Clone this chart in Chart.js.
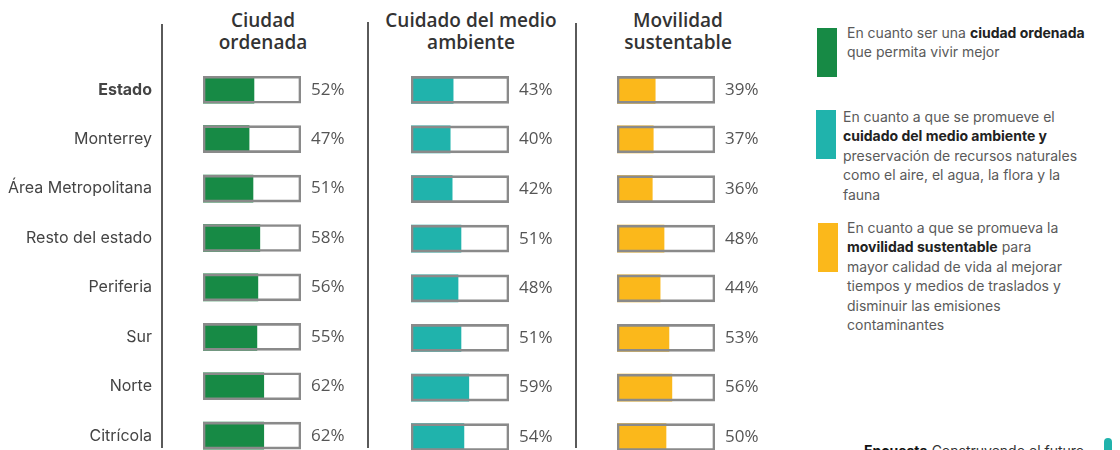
<!DOCTYPE html>
<html><head><meta charset="utf-8">
<script src="https://cdn.jsdelivr.net/npm/chart.js@4"></script>
<style>
html,body{margin:0;padding:0;background:#fff;width:1120px;height:450px;overflow:hidden;position:relative;}
.box{position:absolute;}
.sep{position:absolute;width:2px;background:#5a5a5a;}
.hdr{position:absolute;top:9px;font-family:"Open Sans",sans-serif;font-weight:600;font-size:19px;line-height:22px;color:#333;text-align:center;white-space:nowrap;transform:translateX(-50%);}
.leg{position:absolute;font-family:Inter,"Open Sans",sans-serif;font-size:14px;line-height:19.4px;color:#5a5a5a;white-space:nowrap;}
.leg b{color:#222;font-weight:700;}
.sw{position:absolute;width:20px;height:49px;}
</style></head>
<body>
<div class="sep" style="left:161px;top:24px;height:424px"></div>
<div class="sep" style="left:367px;top:22px;height:426px"></div>
<div class="sep" style="left:575px;top:23px;height:425px"></div>

<div class="hdr" style="left:263px">Ciudad<br>ordenada</div>
<div class="hdr" style="left:471px">Cuidado del medio<br>ambiente</div>
<div class="hdr" style="left:678px">Movilidad<br>sustentable</div>

<div class="sw" style="left:817px;top:28px;background:#178A45"></div>
<div class="leg" style="left:847px;top:23px">En cuanto ser una <b>ciudad ordenada</b><br>que permita vivir mejor</div>
<div class="sw" style="left:816px;top:110px;background:#20B3AC"></div>
<div class="leg" style="left:843px;top:107px">En cuanto a que se promueve el<br><b>cuidado del medio ambiente y</b><br>preservación de recursos naturales<br>como el aire, el agua, la flora y la<br>fauna</div>
<div class="sw" style="left:818px;top:223px;background:#FBB81B"></div>
<div class="leg" style="left:847px;top:218px">En cuanto a que se promueva la<br><b>movilidad sustentable</b> para<br>mayor calidad de vida al mejorar<br>tiempos y medios de traslados y<br>disminuir las emisiones<br>contaminantes</div>
<div class="leg" style="left:864px;top:441px;color:#333"><b style="color:#111">Encuesta</b> Construyendo el futuro</div>
<div style="position:absolute;left:1104px;top:438px;width:8px;height:12px;background:#20B3AC;border-radius:4px 4px 0 0"></div>

<div class="box" style="left:0;top:0;width:360px;height:470px"><canvas id="c1"></canvas></div>
<div class="box" style="left:370px;top:0;width:206px;height:470px"><canvas id="c2"></canvas></div>
<div class="box" style="left:578px;top:0;width:230px;height:470px"><canvas id="c3"></canvas></div>

<script>
const categories = ['Estado','Monterrey','Área Metropolitana','Resto del estado','Periferia','Sur','Norte','Citrícola'];
const ciudadOrdenada = [52,47,51,58,56,55,62,62];
const cuidadoMedioAmbiente = [43,40,42,51,48,51,59,54];
const movilidadSustentable = [39,37,36,48,44,53,56,50];
const fullScale = categories.map(() => 100);

const valueLabels = {
  id: 'valueLabels',
  afterDatasetsDraw(chart) {
    const ctx = chart.ctx;
    const frame = chart.getDatasetMeta(2);
    const vals = chart.data.datasets[1].data;
    ctx.save();
    ctx.font = '17px "Open Sans", sans-serif';
    ctx.fillStyle = '#555';
    ctx.textAlign = 'left';
    ctx.textBaseline = 'middle';
    frame.data.forEach((el, i) => {
      ctx.fillText(vals[i] + '%', el.x + 10, el.y);
    });
    ctx.restore();
  }
};

function makeChart(id, values, color, showLabels, padding) {
  return new Chart(document.getElementById(id), {
    type: 'bar',
    data: {
      labels: categories,
      datasets: [
        { data: fullScale, backgroundColor: '#ffffff', borderWidth: 0, barThickness: 27, grouped: false, order: 3 },
        { data: values, backgroundColor: color, borderWidth: 0, barThickness: 27, grouped: false, order: 2 },
        { data: fullScale, backgroundColor: 'rgba(0,0,0,0)', borderColor: '#8a8a8a', borderWidth: 2, borderSkipped: false, barThickness: 27, grouped: false, order: 1 }
      ]
    },
    options: {
      indexAxis: 'y',
      responsive: true,
      maintainAspectRatio: false,
      animation: false,
      layout: { padding: padding },
      plugins: { legend: { display: false }, tooltip: { enabled: false } },
      scales: {
        x: { display: false, min: 0, max: 100 },
        y: {
          display: showLabels,
          grid: { display: true, drawTicks: true, tickLength: 51, color: 'rgba(0,0,0,0)', drawOnChartArea: false },
          border: { display: false },
          afterFit: showLabels ? (s) => { s.width = 203; } : undefined,
          ticks: {
            padding: 0,
            color: '#444',
            font: (c) => ({ family: 'Inter, "Open Sans", sans-serif', size: 16, weight: c.index === 0 ? '700' : '400' })
          }
        }
      }
    },
    plugins: [valueLabels]
  });
}

makeChart('c1', ciudadOrdenada, '#178A45', true, { top: 65, bottom: 8, right: 59, left: 0 });
makeChart('c2', cuidadoMedioAmbiente, '#20B3AC', false, { top: 65, bottom: 8, right: 67, left: 41 });
makeChart('c3', movilidadSustentable, '#FBB81B', false, { top: 65, bottom: 8, right: 93, left: 39 });
</script>
</body></html>
